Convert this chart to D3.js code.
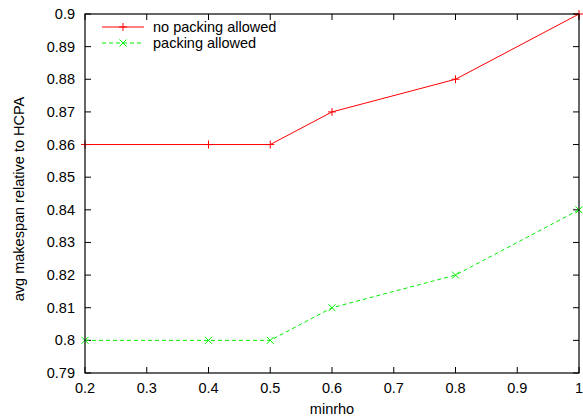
<!DOCTYPE html>
<html><head><meta charset="utf-8">
<script src="https://cdn.jsdelivr.net/npm/d3@7"></script>
<style>body{margin:0;background:#fff}svg{display:block}text{font-family:"Liberation Sans",Arial,sans-serif;font-size:14.5px;fill:#000}</style>
</head><body>
<svg id="c" width="583" height="417"></svg>
<script>
const minrho = [0.2, 0.4, 0.5, 0.6, 0.8, 1.0];
const noPacking = [0.86, 0.86, 0.86, 0.87, 0.88, 0.90];
const packing = [0.80, 0.80, 0.80, 0.81, 0.82, 0.84];
const xTicks = [0.2, 0.3, 0.4, 0.5, 0.6, 0.7, 0.8, 0.9, 1];
const yTicks = [0.79, 0.8, 0.81, 0.82, 0.83, 0.84, 0.85, 0.86, 0.87, 0.88, 0.89, 0.9];
const seriesNames = ["no packing allowed", "packing allowed"];

const L = 85, R = 579, T = 14, B = 373;
const svg = d3.select("#c");
const x = d3.scaleLinear().domain([0.2, 1]).range([L, R]);
const y = d3.scaleLinear().domain([0.79, 0.9]).range([B, T]);
const fmt = d => String(+d.toFixed(2));
const tl = 6;

// ticks (mirrored, inward)
const g = svg.append("g").attr("stroke", "#000").attr("stroke-width", 1);
xTicks.forEach(t => {
  g.append("line").attr("x1", x(t)).attr("x2", x(t)).attr("y1", B).attr("y2", B - tl);
  g.append("line").attr("x1", x(t)).attr("x2", x(t)).attr("y1", T).attr("y2", T + tl);
});
yTicks.forEach(t => {
  g.append("line").attr("x1", L).attr("x2", L + tl).attr("y1", y(t)).attr("y2", y(t));
  g.append("line").attr("x1", R).attr("x2", R - tl).attr("y1", y(t)).attr("y2", y(t));
});
svg.selectAll(".xl").data(xTicks).enter().append("text")
  .attr("x", d => x(d)).attr("y", B + 20).attr("text-anchor", "middle").text(fmt);
svg.selectAll(".yl").data(yTicks).enter().append("text")
  .attr("x", L - 10).attr("y", d => y(d) + 5).attr("text-anchor", "end").text(fmt);

svg.append("text").attr("x", (L + R) / 2).attr("y", 414).attr("text-anchor", "middle").text("minrho");
svg.append("text").attr("transform", `translate(24,199) rotate(-90)`)
  .attr("text-anchor", "middle").text("avg makespan relative to HCPA");

const line = d3.line().x(d => x(d[0])).y(d => y(d[1]));
const s1 = minrho.map((m, i) => [m, noPacking[i]]);
const s2 = minrho.map((m, i) => [m, packing[i]]);

function plus(sel, cx, cy, col) {
  sel.append("path").attr("d", `M${cx-4},${cy}H${cx+4}M${cx},${cy-4}V${cy+4}`).attr("stroke", col).attr("stroke-width", 1).attr("fill", "none");
}
function cross(sel, cx, cy, col) {
  sel.append("path").attr("d", `M${cx-3.5},${cy-3.5}L${cx+3.5},${cy+3.5}M${cx-3.5},${cy+3.5}L${cx+3.5},${cy-3.5}`).attr("stroke", col).attr("stroke-width", 1).attr("fill", "none");
}

svg.append("path").datum(s1).attr("d", line).attr("fill", "none").attr("stroke", "#ff0000").attr("stroke-width", 1);
s1.forEach(d => plus(svg, x(d[0]), y(d[1]), "#ff0000"));
svg.append("path").datum(s2).attr("d", line).attr("fill", "none").attr("stroke", "#00ee00").attr("stroke-width", 1).attr("stroke-dasharray", "4,3");
s2.forEach(d => cross(svg, x(d[0]), y(d[1]), "#00ee00"));

// frame
svg.append("rect").attr("x", L).attr("y", T).attr("width", R - L).attr("height", B - T)
  .attr("fill", "none").attr("stroke", "#000").attr("stroke-width", 1.2);

// legend
const lg = svg.append("g");
[["#ff0000", null, plus], ["#00ee00", "4,3", cross]].forEach((s, i) => {
  const yy = 27 + i * 16;
  lg.append("line").attr("x1", 102).attr("x2", 144).attr("y1", yy).attr("y2", yy)
    .attr("stroke", s[0]).attr("stroke-width", 1).attr("stroke-dasharray", s[1]);
  s[2](lg, 123, yy, s[0]);
  lg.append("text").attr("x", 153).attr("y", yy + 5).text(seriesNames[i]);
});
</script>
</body></html>
